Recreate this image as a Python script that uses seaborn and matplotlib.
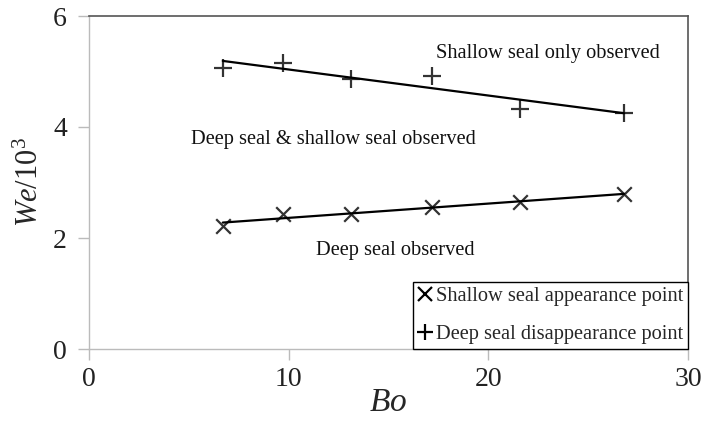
import matplotlib
matplotlib.use("Agg")
import matplotlib.pyplot as plt
from matplotlib.lines import Line2D
import seaborn as sns
import pandas as pd

# Data
bo_values = [6.7, 9.7, 13.1, 17.2, 21.6, 26.8]
we_shallow_appearance = [2.22, 2.43, 2.43, 2.56, 2.65, 2.79]
we_deep_disappearance = [5.07, 5.15, 4.86, 4.91, 4.32, 4.26]
x_ticks = [0, 10, 20, 30]
y_ticks = [0, 2, 4, 6]
legend_labels = ["Shallow seal appearance point", "Deep seal disappearance point"]
region_labels = ["Shallow seal only observed",
                 "Deep seal & shallow seal observed",
                 "Deep seal observed"]

sns.set_theme(style="white")
plt.rcParams['font.family'] = ['Liberation Serif', 'DejaVu Serif']
plt.rcParams['mathtext.fontset'] = 'custom'
plt.rcParams['mathtext.rm'] = 'Liberation Serif'
plt.rcParams['mathtext.it'] = 'Liberation Serif:italic'

df_a = pd.DataFrame({"Bo": bo_values, "We": we_shallow_appearance})
df_d = pd.DataFrame({"Bo": bo_values, "We": we_deep_disappearance})

fig = plt.figure(figsize=(7.03, 4.23), dpi=100)
ax = fig.add_axes([89/703, 74/423, (688-89)/703, (349-16)/423])

sns.regplot(data=df_a, x="Bo", y="We", ax=ax, ci=None, truncate=True, marker="x",
            scatter_kws=dict(color="black", s=110, linewidths=1.6),
            line_kws=dict(color="black", lw=1.6))
sns.regplot(data=df_d, x="Bo", y="We", ax=ax, ci=None, truncate=True, marker="+",
            scatter_kws=dict(color="black", s=150, linewidths=1.6),
            line_kws=dict(color="black", lw=1.6))

ax.set_xlim(0, 30)
ax.set_ylim(0, 6)
ax.set_xticks(x_ticks)
ax.set_yticks(y_ticks)
ax.tick_params(axis='both', labelsize=20, color='#bbbbbb', labelcolor='#222222',
               length=8, width=1, direction='out', bottom=True, left=True)
ax.tick_params(axis='x', pad=5)
ax.tick_params(axis='y', pad=8)

for side in ['left', 'bottom']:
    ax.spines[side].set_color('#bbbbbb')
    ax.spines[side].set_linewidth(1.0)
for side in ['top', 'right']:
    ax.spines[side].set_color('#555555')
    ax.spines[side].set_linewidth(1.2)
    ax.spines[side].set_visible(True)

ax.set_xlabel(r"$\mathit{Bo}$", fontsize=24, labelpad=0, va='center')
ax.set_ylabel(r"$\mathit{We}$/10$^3$", fontsize=22, labelpad=0, va='center')
ax.xaxis.set_label_coords((388-89)/599, -(403-349)/333)
ax.yaxis.set_label_coords(-(89-30)/599, (349-182)/333)

ax.text(17.4, 5.33, region_labels[0], fontsize=14.7, va='center', ha='left', color='#111111')
ax.text(5.13, 3.78, region_labels[1], fontsize=14.7, va='center', ha='left', color='#111111')
ax.text(11.38, 1.77, region_labels[2], fontsize=14.7, va='center', ha='left', color='#111111')

handles = [Line2D([], [], color='black', marker='x', linestyle='none', markersize=10, markeredgewidth=1.6),
           Line2D([], [], color='black', marker='+', linestyle='none', markersize=12, markeredgewidth=1.6)]
leg = ax.legend(handles, legend_labels, loc='lower right', borderaxespad=0, fontsize=14.7,
                frameon=True, fancybox=False, framealpha=1, edgecolor='black',
                handlelength=0.7, handletextpad=0.15, borderpad=0.25, labelspacing=0.9)
leg.get_frame().set_linewidth(1.0)

fig.savefig("out.png", dpi=100)
